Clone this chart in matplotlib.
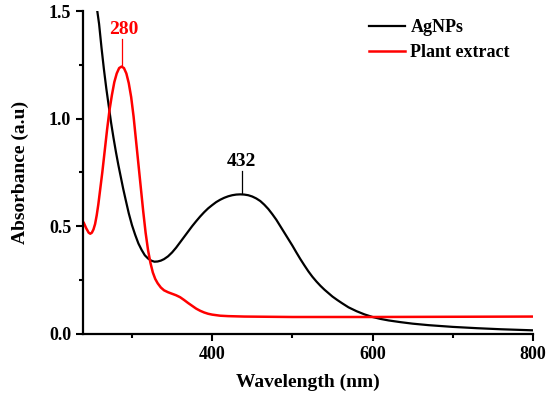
import matplotlib
matplotlib.use('Agg')
import matplotlib.pyplot as plt
from matplotlib.ticker import MultipleLocator

plt.rcParams['font.family'] = 'Liberation Serif'
plt.rcParams['font.weight'] = 'bold'

# AgNPs spectrum
ag_wl = [256, 259, 262, 265, 268, 271, 274, 277, 280, 283, 286, 289, 292, 296, 300, 304,
         308, 312, 316, 320, 324, 328, 332, 336, 340, 345, 350, 355, 360, 365, 370, 375,
         380, 385, 390, 395, 400, 405, 410, 415, 420, 425, 430, 435, 440, 445, 450, 455,
         460, 465, 470, 475, 480, 485, 490, 495, 500, 505, 510, 515, 520, 525, 530, 535,
         540, 545, 550, 556, 562, 570, 580, 590, 600, 610, 620, 635, 650, 670, 700, 730,
         760, 800]
ag_abs = [1.52, 1.44, 1.33, 1.23, 1.14, 1.06, 0.98, 0.91, 0.845, 0.785, 0.73, 0.675, 0.625,
          0.56, 0.505, 0.46, 0.42, 0.39, 0.365, 0.35, 0.34, 0.335, 0.336, 0.34, 0.347, 0.36,
          0.378, 0.4, 0.425, 0.45, 0.475, 0.5, 0.523, 0.545, 0.565, 0.583, 0.598, 0.612,
          0.623, 0.632, 0.639, 0.644, 0.647, 0.648, 0.647, 0.644, 0.638, 0.629, 0.617, 0.6,
          0.58, 0.556, 0.53, 0.5, 0.47, 0.44, 0.41, 0.378, 0.347, 0.318, 0.29, 0.265, 0.243,
          0.223, 0.205, 0.189, 0.173, 0.157, 0.142, 0.123, 0.105, 0.09, 0.078, 0.069, 0.062,
          0.054, 0.047, 0.04, 0.032, 0.026, 0.021, 0.016]

# plant extract spectrum
pe_wl = [240, 243, 246, 248, 250, 252, 254, 256, 258, 260, 263, 266, 269, 272, 275, 278,
         281, 284, 287, 290, 293, 296, 299, 302, 305, 308, 311, 314, 317, 320, 323, 326,
         329, 332, 336, 340, 345, 350, 355, 360, 365, 370, 375, 380, 385, 390, 395, 400,
         410, 420, 440, 470, 500, 600, 700, 800]
pe_abs = [0.515, 0.49, 0.47, 0.465, 0.47, 0.485, 0.51, 0.55, 0.6, 0.66, 0.75, 0.85, 0.95,
          1.04, 1.11, 1.17, 1.21, 1.235, 1.242, 1.235, 1.21, 1.165, 1.1, 1.01, 0.9, 0.79,
          0.68, 0.57, 0.47, 0.39, 0.33, 0.285, 0.255, 0.235, 0.215, 0.202, 0.193, 0.186,
          0.179, 0.17, 0.157, 0.143, 0.13, 0.117, 0.107, 0.099, 0.093, 0.089, 0.084, 0.082,
          0.08, 0.079, 0.078, 0.078, 0.079, 0.08]

fig = plt.figure(figsize=(5.5, 3.95), dpi=100)
ax = fig.add_axes([0.151, 0.155, 0.818, 0.817])

ax.plot(ag_wl, ag_abs, color='black', lw=1.6, label='AgNPs')
ax.plot(pe_wl, pe_abs, color='red', lw=1.8, label='Plant extract')

# peak markers
ax.plot([288, 288], [1.25, 1.37], color='red', lw=0.9)
ax.text(290, 1.375, '280', color='red', fontsize=14, ha='center', va='bottom', fontweight='bold')
ax.plot([437, 437], [0.655, 0.755], color='black', lw=0.9)
ax.text(437, 0.76, '432', color='black', fontsize=14, ha='center', va='bottom', fontweight='bold')

ax.set_xlim(239, 800)
ax.set_ylim(0, 1.5)
ax.xaxis.set_major_locator(MultipleLocator(200))
ax.xaxis.set_minor_locator(MultipleLocator(100))
ax.yaxis.set_major_locator(MultipleLocator(0.5))
ax.yaxis.set_minor_locator(MultipleLocator(0.25))
ax.tick_params(which='both', direction='out', width=1.5, labelsize=13)
ax.tick_params(which='major', length=5)
ax.tick_params(which='minor', length=3)
for s in ['top', 'right']:
    ax.spines[s].set_visible(False)
for s in ['left', 'bottom']:
    ax.spines[s].set_linewidth(1.6)

ax.set_xlabel('Wavelength (nm)', fontsize=14, fontweight='bold', labelpad=8)
ax.set_ylabel('Absorbance (a.u)', fontsize=14, fontweight='bold', labelpad=14)

leg = ax.legend(loc='upper right', frameon=False, fontsize=13, handlelength=2.0,
                handletextpad=0.3, labelspacing=0.45, bbox_to_anchor=(0.985, 1.025))

plt.savefig('out.png', dpi=100)
